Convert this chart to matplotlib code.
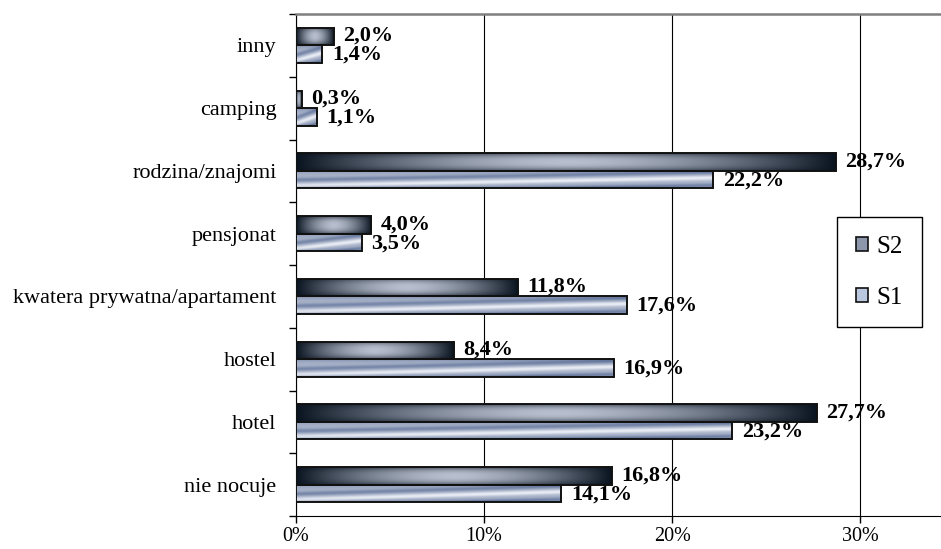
import numpy as np
import matplotlib.pyplot as plt
from matplotlib.patches import Patch

plt.rcParams['font.family'] = ['Liberation Serif', 'DejaVu Serif']

categories = ['nie nocuje', 'hotel', 'hostel', 'kwatera prywatna/apartament',
              'pensjonat', 'rodzina/znajomi', 'camping', 'inny']
s2 = [16.8, 27.7, 8.4, 11.8, 4.0, 28.7, 0.3, 2.0]
s1 = [14.1, 23.2, 16.9, 17.6, 3.5, 22.2, 1.1, 1.4]
x_ticks = [0, 10, 20, 30]
x_labels = ['0%', '10%', '20%', '30%']


def s2_texture(n=24, m=240):
    # dark at the ends, light in the middle, darker top/bottom edge
    u = np.linspace(0, 1, m)[None, :]
    v = np.linspace(0, 1, n)[:, None]
    hx = 1 - np.abs(2 * u - 1) ** 1.6
    hy = 1 - 0.6 * np.abs(2 * v - 1) ** 2.5
    t = (hx * hy)[..., None]
    dark = np.array([0.04, 0.08, 0.13])
    light = np.array([0.72, 0.75, 0.81])
    return dark + (light - dark) * t


def s1_texture(n=24, m=240):
    # light blue with a diagonal white streak
    u = np.linspace(0, 1, m)[None, :]
    v = np.linspace(0, 1, n)[:, None]
    s = v - 0.45 * u
    i = (0.55 + 0.4 * np.exp(-((s - 0.12) / 0.13) ** 2)
         - 0.3 * np.exp(-((s - 0.45) / 0.12) ** 2)
         - 0.25 * np.exp(-((s + 0.3) / 0.1) ** 2))
    i = i - 0.25 * np.abs(2 * v - 1) ** 4
    i = np.clip(i, 0, 1)[..., None]
    lo = np.array([0.30, 0.38, 0.55])
    hi = np.array([0.95, 0.96, 0.98])
    return lo + (hi - lo) * i


fig = plt.figure(figsize=(9.41, 5.49), dpi=100)
ax = fig.add_axes([0.3146, 0.0601, 0.6854, 0.9144])

y = np.arange(len(categories))
h = 0.28
bars2 = ax.barh(y + h / 2, s2, height=h, facecolor='none', edgecolor='#111111', lw=1.4, zorder=4)
bars1 = ax.barh(y - h / 2, s1, height=h, facecolor='none', edgecolor='#111111', lw=1.4, zorder=4)

tex2 = s2_texture()
tex1 = s1_texture()
for bars, tex in [(bars2, tex2), (bars1, tex1)]:
    for p in bars:
        x0, y0, w, hh = p.get_x(), p.get_y(), p.get_width(), p.get_height()
        im = ax.imshow(tex, extent=[x0, x0 + w, y0, y0 + hh], origin='lower',
                       aspect='auto', interpolation='bilinear', zorder=3)
        im.set_clip_path(p)


def fmt(v):
    return f'{v:.1f}'.replace('.', ',') + '%'


for yy, a, b in zip(y, s2, s1):
    ax.annotate(fmt(a), xy=(a, yy + h / 2), xytext=(7, 0.5), textcoords='offset points',
                va='center', ha='left', fontsize=16, fontweight='bold', zorder=5)
    ax.annotate(fmt(b), xy=(b, yy - h / 2), xytext=(7, -0.5), textcoords='offset points',
                va='center', ha='left', fontsize=16, fontweight='bold', zorder=5)

ax.set_xlim(0, 34.3)
ax.set_ylim(-0.5, len(categories) - 0.5)

ax.set_xticks(x_ticks)
ax.set_xticklabels(x_labels, fontsize=14.5)
ax.tick_params(axis='x', direction='out', length=5, width=1, pad=3)
ax.set_yticks(y)
ax.set_yticklabels(categories, fontsize=16)
ax.set_yticks(np.arange(-0.5, len(categories)), minor=True)
ax.tick_params(axis='y', which='major', length=0, pad=14)
ax.tick_params(axis='y', which='minor', direction='out', length=5, width=1)

ax.xaxis.grid(True, color='black', lw=0.8)
ax.set_axisbelow(True)
ax.spines['right'].set_visible(False)
ax.spines['top'].set_color('#7f7f7f')
ax.spines['top'].set_linewidth(1.8)
ax.spines['left'].set_color('black')
ax.spines['bottom'].set_color('black')

handles = [Patch(facecolor='#8c97ab', edgecolor='#111111', lw=1.2, label='S2'),
           Patch(facecolor='#b9c7df', edgecolor='#111111', lw=1.2, label='S1')]
leg = ax.legend(handles=handles, loc='upper right', bbox_to_anchor=(0.9705, 0.5956),
                borderaxespad=0, fontsize=18, frameon=True, fancybox=False,
                framealpha=1, edgecolor='black', handlelength=0.5, handleheight=0.5,
                handletextpad=0.35, labelspacing=1.15, borderpad=0.75)
leg.get_frame().set_linewidth(1.0)
leg.set_zorder(6)

fig.savefig('out.png', dpi=100)
